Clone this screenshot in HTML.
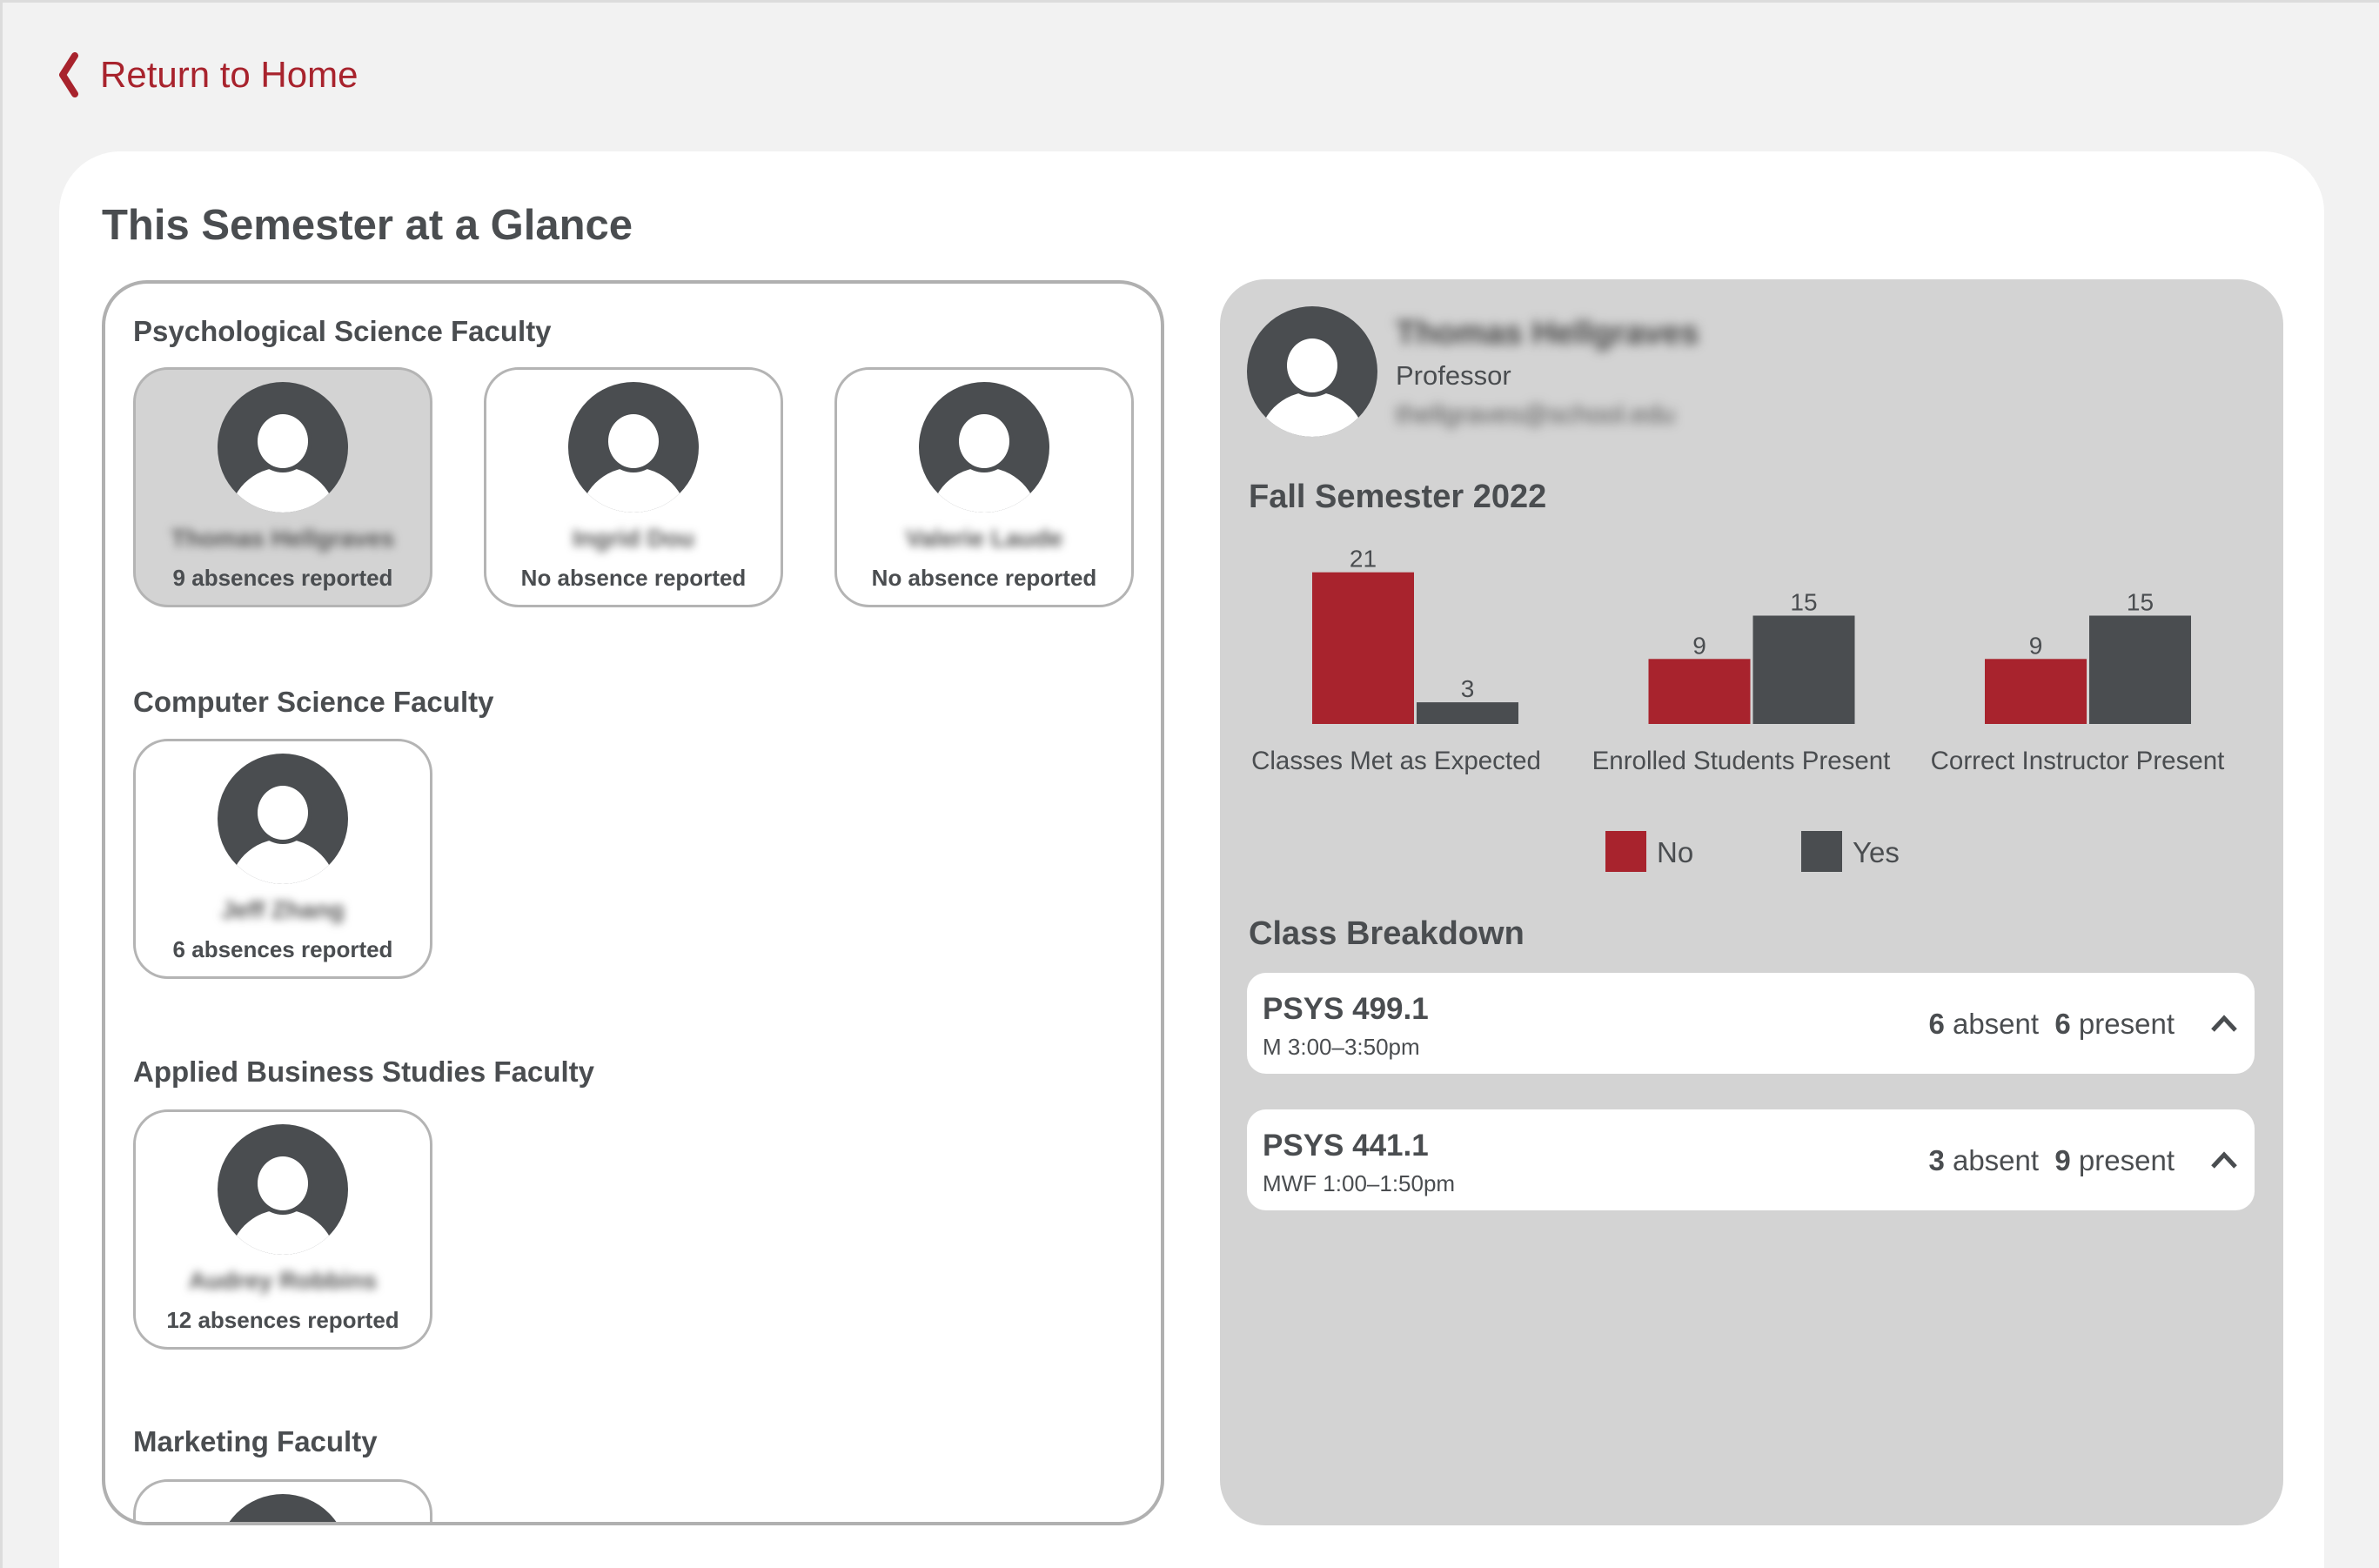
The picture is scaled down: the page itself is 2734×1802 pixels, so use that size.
<!DOCTYPE html>
<html><head><meta charset="utf-8">
<style>
*{box-sizing:border-box;margin:0;padding:0}
html{width:2734px;height:1802px;overflow:hidden}
body{width:2734px;height:1802px;background:#f2f2f2;position:relative;overflow:hidden;font-family:"Liberation Sans",sans-serif;color:#4a4d50}
.abs{position:absolute}
.frame-top{left:0;top:0;width:2734px;height:3px;background:#dcdcdc}
.frame-left{left:0;top:0;width:3px;height:1802px;background:#dcdcdc}
.card{left:68px;top:174px;width:2603px;height:1628px;background:#fff;border-radius:70px 70px 0 0}
.left-panel{left:117px;top:322px;width:1221px;height:1431px;border:4px solid #b0b0b0;border-radius:52px;overflow:hidden;background:#fff}
.h{font-weight:bold;font-size:33px;white-space:nowrap}
.fc{width:344px;height:276px;border:3px solid #b4b4b4;border-radius:40px;background:#fff;text-align:center}
.fc.sel{background:#d3d3d3}
.fc svg{position:absolute;left:94px;top:14px}
.fc .nm{position:absolute;left:0;right:0;top:178px;font-size:28px;font-weight:bold;filter:blur(5px);color:#555}
.fc .ab{position:absolute;left:0;right:0;top:224px;font-size:26px;font-weight:bold}
.right-panel{left:1402px;top:321px;width:1222px;height:1432px;background:#d3d3d3;border-radius:52px}
.row{left:1433px;width:1158px;height:116px;background:#fff;border-radius:22px}
.row .c{position:absolute;left:18px;top:22px;font-size:35px;font-weight:bold}
.row .t{position:absolute;left:18px;top:70px;font-size:26px}
.row .s{position:absolute;right:92px;top:40px;font-size:33px}
.row .ch{position:absolute;right:18px;top:46px}
</style></head>
<body>
<div class="abs frame-top"></div>
<div class="abs frame-left"></div>

<div class="abs" style="left:64px;top:60px;">
<svg width="30" height="52" style="position:absolute;left:0;top:0"><path d="M22 4 L8 26 L22 48" stroke="#a8232d" stroke-width="8" fill="none" stroke-linecap="round" stroke-linejoin="round"/></svg>
<span style="position:absolute;left:51px;top:2px;font-size:42px;color:#a8232d;white-space:nowrap">Return to Home</span>
</div>

<div class="abs card"></div>
<div class="abs" style="left:117px;top:231px;font-size:49px;font-weight:bold;white-space:nowrap">This Semester at a Glance</div>

<div class="abs left-panel">
<div id="lp" style="position:absolute;left:-121px;top:-326px;width:2734px;height:1802px"></div>
</div>

<div class="abs right-panel"></div>
<svg class="abs" style="left:1433px;top:352px" width="150" height="150">
<defs><clipPath id="pc"><circle cx="75" cy="75" r="75"/></clipPath></defs>
<circle cx="75" cy="75" r="75" fill="#4a4d50"/>
<g clip-path="url(#pc)"><ellipse cx="75" cy="160" rx="62" ry="62" fill="#fff"/><circle cx="75" cy="70" r="34" fill="#4a4d50"/><ellipse cx="75" cy="68" rx="29" ry="31" fill="#fff"/></g>
</svg>
<div class="abs" style="left:1604px;top:362px;font-size:38px;font-weight:bold;filter:blur(6px);color:#444;white-space:nowrap">Thomas Hellgraves</div>
<div class="abs" style="left:1604px;top:414px;font-size:31px;white-space:nowrap">Professor</div>
<div class="abs" style="left:1604px;top:460px;font-size:30px;filter:blur(6px);color:#555;white-space:nowrap">thellgraves@school.edu</div>
<div class="abs" style="left:1435px;top:550px;font-size:38px;font-weight:bold;white-space:nowrap">Fall Semester 2022</div>

<svg id="chart" class="abs" style="left:1402px;top:600px" width="1222" height="420"></svg>

<div class="abs" style="left:1435px;top:1052px;font-size:38px;font-weight:bold;white-space:nowrap">Class Breakdown</div>

<div class="abs row" style="top:1118px">
<div class="c">PSYS 499.1</div><div class="t">M 3:00–3:50pm</div>
<div class="s"><b>6</b> absent &nbsp;<b>6</b> present</div>
<svg class="ch" width="34" height="24"><path d="M4 20 L17 6 L30 20" stroke="#4a4d50" stroke-width="5" fill="none"/></svg>
</div>
<div class="abs row" style="top:1275px">
<div class="c">PSYS 441.1</div><div class="t">MWF 1:00–1:50pm</div>
<div class="s"><b>3</b> absent &nbsp;<b>9</b> present</div>
<svg class="ch" width="34" height="24"><path d="M4 20 L17 6 L30 20" stroke="#4a4d50" stroke-width="5" fill="none"/></svg>
</div>

<script>
// ---- faculty cards ----
const lp=document.getElementById('lp');
const heads=[["Psychological Science Faculty",380],["Computer Science Faculty",806],["Applied Business Studies Faculty",1231],["Marketing Faculty",1656]];
heads.forEach(h=>{const d=document.createElement('div');d.className='abs h';d.style.left='153px';d.style.top=(h[1]-18)+'px';d.textContent=h[0];


lp.appendChild(d);});
const cards=[[153,422,"Thomas Hellgraves","9 absences reported",true],[556,422,"Ingrid Dou","No absence reported",false],[959,422,"Valerie Laude","No absence reported",false],[153,849,"Jeff Zhang","6 absences reported",false],[153,1275,"Audrey Robbins","12 absences reported",false],[153,1700,"","",false]];
let n=0;
cards.forEach(c=>{n++;const d=document.createElement('div');d.className='abs fc'+(c[4]?' sel':'');d.style.left=c[0]+'px';d.style.top=c[1]+'px';


d.innerHTML='<svg width="150" height="150"><defs><clipPath id="fc'+n+'"><circle cx="75" cy="75" r="75"/></clipPath></defs><circle cx="75" cy="75" r="75" fill="#4a4d50"/><g clip-path="url(#fc'+n+')"><ellipse cx="75" cy="160" rx="62" ry="62" fill="#fff"/><circle cx="75" cy="70" r="34" fill="#4a4d50"/><ellipse cx="75" cy="68" rx="29" ry="31" fill="#fff"/></g></svg><div class="nm">'+c[2]+'</div><div class="ab">'+c[3]+'</div>';
lp.appendChild(d);});

// ---- chart ----
const categories=["Classes Met as Expected","Enrolled Students Present","Correct Instructor Present"];
const noValues=[21,9,9];
const yesValues=[3,15,15];
const seriesNames=["No","Yes"];
const NS="http://www.w3.org/2000/svg";
const svg=document.getElementById('chart');
const baseY=232, unit=8.3, groupX0=106, groupStep=386.5, barW=117, gap=3;
const yScale=v=>baseY-v*unit;
const xScale=(i,s)=>groupX0+i*groupStep+s*(barW+gap);
const colors=["#a8232d","#4a4d50"];
function el(t,a){const e=document.createElementNS(NS,t);for(const k in a)e.setAttribute(k,a[k]);svg.appendChild(e);return e;}
categories.forEach((cat,i)=>{
 [noValues[i],yesValues[i]].forEach((v,s)=>{
  const r=el('rect',{x:xScale(i,s),y:yScale(v),width:barW,height:v*unit,fill:colors[s]});
  
  
  const t=el('text',{x:xScale(i,s)+barW/2,y:yScale(v)-6,'text-anchor':'middle','font-size':28,fill:'#4a4d50','font-family':'Liberation Sans, sans-serif'});
  t.textContent=v;
  
  
 });
 const l=el('text',{x:xScale(i,0)+barW+1.5-(i==0?22:12),y:284,'text-anchor':'middle','font-size':29.5,fill:'#4a4d50','font-family':'Liberation Sans, sans-serif'});
 l.textContent=cat;
 
 
});
const legX=[443,668];
seriesNames.forEach((s,k)=>{
 const r=el('rect',{x:legX[k],y:355,width:47,height:47,fill:colors[k]});
 
 
 const t=el('text',{x:legX[k]+59,y:391,'font-size':33,fill:'#4a4d50','font-family':'Liberation Sans, sans-serif'});
 t.textContent=s;
 
 
});
</script>
</body></html>
